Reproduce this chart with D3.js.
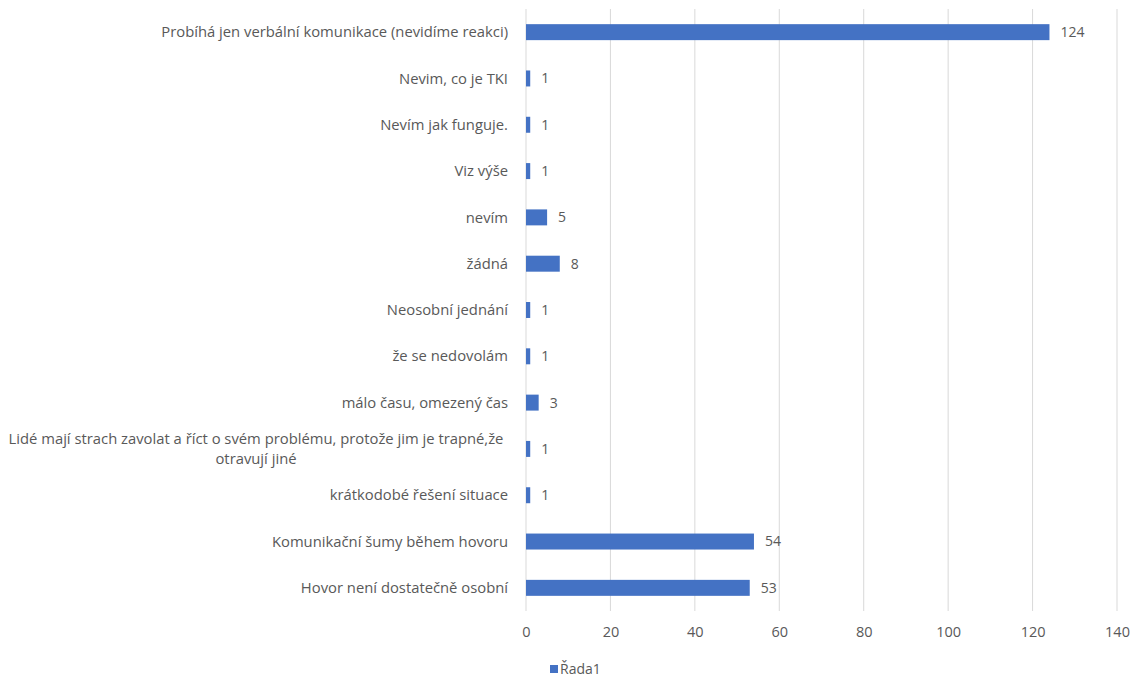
<!DOCTYPE html>
<html>
<head>
<meta charset="utf-8">
<script src="https://cdn.jsdelivr.net/npm/d3@7"></script>
<style>
  html, body { margin: 0; padding: 0; background: #fff; }
  svg { display: block; }
  text { font-family: "Open Sans", "Noto Sans", sans-serif; fill: #595959; }
</style>
</head>
<body>
<svg id="chart" width="1139" height="679"></svg>
<script>
// Answers (top to bottom) and counts
const categories = [
  "Probíhá jen verbální komunikace (nevidíme reakci)",
  "Nevim, co je TKI",
  "Nevím jak funguje.",
  "Viz výše",
  "nevím",
  "žádná",
  "Neosobní jednání",
  "že se nedovolám",
  "málo času, omezený čas",
  "Lidé mají strach zavolat a říct o svém problému, protože jim je trapné,že otravují jiné",
  "krátkodobé řešení situace",
  "Komunikační šumy během hovoru",
  "Hovor není dostatečně osobní"
];
const values = [124, 1, 1, 1, 5, 8, 1, 1, 3, 1, 1, 54, 53];
const xTicks = [0, 20, 40, 60, 80, 100, 120, 140];
const seriesName = "Řada1";
// Wrapped lines for long category labels
const wrappedLabels = {
  "Lidé mají strach zavolat a říct o svém problému, protože jim je trapné,že otravují jiné":
    ["Lidé mají strach zavolat a říct o svém problému, protože jim je trapné,že", "otravují jiné"]
};

const svg = d3.select("#chart");
const plotLeft = 526, plotRight = 1117, plotTop = 9, plotBottom = 611;
const barColor = "#4472C4";
const labelSize = 14.8;

const x = d3.scaleLinear().domain([0, 140]).range([plotLeft, plotRight]);
const y = d3.scaleBand().domain(categories).range([plotTop, plotBottom]).paddingInner(0.655).paddingOuter(0.3275);

// Vertical gridlines
svg.append("g")
  .selectAll("line")
  .data(xTicks)
  .join("line")
  .attr("x1", d => x(d)).attr("x2", d => x(d))
  .attr("y1", plotTop).attr("y2", plotBottom)
  .attr("stroke", "#d9d9d9").attr("stroke-width", 1);

// X axis tick labels
const xAxis = d3.axisBottom(x).tickValues(xTicks).tickSize(0).tickPadding(0);
const gx = svg.append("g").attr("transform", `translate(0,${plotBottom + 16})`).call(xAxis);
gx.select(".domain").remove();
gx.selectAll("text").attr("font-size", 14.5).style("font-family", '"Open Sans", sans-serif').attr("fill", "#595959").attr("dy", "0.71em");

// Bars
svg.append("g")
  .selectAll("rect")
  .data(values)
  .join("rect")
  .attr("x", x(0))
  .attr("y", (d, i) => y(categories[i]))
  .attr("width", d => x(d) - x(0))
  .attr("height", y.bandwidth())
  .attr("fill", barColor);

// Value labels
svg.append("g")
  .selectAll("text")
  .data(values)
  .join("text")
  .attr("x", d => x(d) + 11)
  .attr("y", (d, i) => y(categories[i]) + y.bandwidth() / 2)
  .attr("dy", "0.35em")
  .attr("font-size", 14)
  .text(d => d);

// Category labels
const labelX = 508;
const cat = svg.append("g");
categories.forEach(c => {
  const cy = y(c) + y.bandwidth() / 2;
  const lines = wrappedLabels[c];
  if (lines) {
    const t = cat.append("text").attr("font-size", labelSize).attr("text-anchor", "middle");
    const cx = 256;
    lines.forEach((ln, k) => {
      t.append("tspan").attr("x", cx).attr("y", cy + (k - (lines.length - 1) / 2) * 20).attr("dy", "0.35em").text(ln);
    });
  } else {
    cat.append("text")
      .attr("x", labelX).attr("y", cy).attr("dy", "0.35em")
      .attr("font-size", labelSize).attr("text-anchor", "end")
      .text(c);
  }
});

// Legend
const legend = svg.append("g").attr("transform", "translate(550,665)");
legend.append("rect").attr("x", 0).attr("y", 0).attr("width", 8).attr("height", 8).attr("fill", barColor);
legend.append("text").attr("x", 10).attr("y", 4).attr("dy", "0.35em").attr("font-size", 14).text(seriesName);
</script>
</body>
</html>
